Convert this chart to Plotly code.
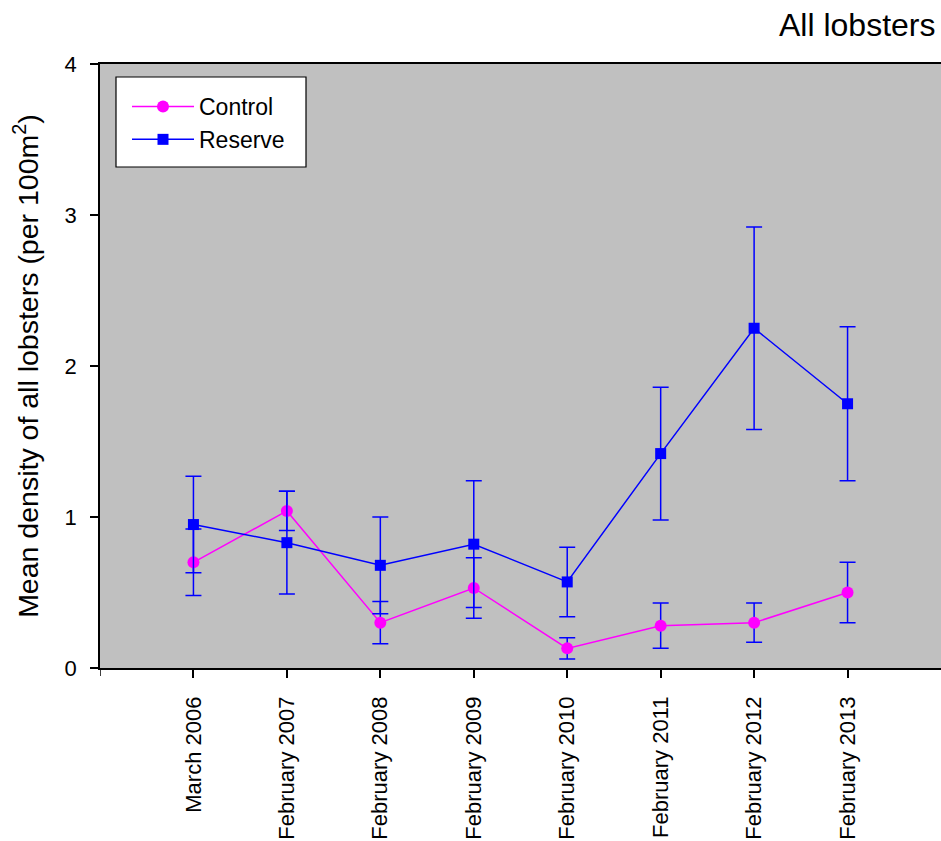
import plotly.graph_objects as go

categories = ["March 2006", "February 2007", "February 2008", "February 2009",
              "February 2010", "February 2011", "February 2012", "February 2013"]
control_mean = [0.70, 1.04, 0.30, 0.53, 0.13, 0.28, 0.30, 0.50]
control_err = [0.22, 0.13, 0.14, 0.20, 0.07, 0.15, 0.13, 0.20]
reserve_mean = [0.95, 0.83, 0.68, 0.82, 0.57, 1.42, 2.25, 1.75]
reserve_err = [0.32, 0.34, 0.32, 0.42, 0.23, 0.44, 0.67, 0.51]
y_ticks = [0, 1, 2, 3, 4]

FONT = "Liberation Sans, Arial, sans-serif"
xpos = list(range(len(categories)))

W, H = 941, 841
ML, MR, MT, MB = 100, 0, 64, 173
PW, PH = W - ML - MR, H - MT - MB


def px_x(px):
    return (px - ML) / PW


def px_y(py):
    return 1 - (py - MT) / PH


fig = go.Figure()
fig.add_trace(go.Scatter(
    x=xpos, y=control_mean, name="Control", mode="lines+markers",
    line=dict(color="#FF00FF", width=1.5),
    marker=dict(symbol="circle", size=12, color="#FF00FF"),
    error_y=dict(type="data", array=control_err, visible=True,
                 color="#0000FF", thickness=1.5, width=8),
))
fig.add_trace(go.Scatter(
    x=xpos, y=reserve_mean, name="Reserve", mode="lines+markers",
    line=dict(color="#0000FF", width=1.5),
    marker=dict(symbol="square", size=11, color="#0000FF"),
    error_y=dict(type="data", array=reserve_err, visible=True,
                 color="#0000FF", thickness=1.5, width=8),
))

fig.update_layout(
    width=W, height=H,
    margin=dict(l=ML, r=MR, t=MT, b=MB, autoexpand=False),
    paper_bgcolor="white", plot_bgcolor="#C0C0C0",
    font=dict(family=FONT, color="black", size=22),
    showlegend=True,
    legend=dict(
        x=px_x(127), y=px_y(85), xanchor="left", yanchor="top",
        bgcolor="rgba(0,0,0,0)", borderwidth=0,
        font=dict(size=23, family=FONT), itemwidth=62,
    ),
    xaxis=dict(
        range=[-1, 8], tickmode="array",
        tickvals=xpos, ticktext=categories,
        tickangle=-90, ticks="outside", ticklen=8, tickwidth=1.5,
        tickcolor="black", showline=True, linecolor="black", linewidth=1.5,
        mirror=True, showgrid=False, zeroline=False, automargin=False,
        tickfont=dict(size=22, family=FONT), ticklabelstandoff=10,
    ),
    yaxis=dict(
        range=[0, 4], tickmode="array", tickvals=y_ticks,
        ticks="outside", ticklen=8, tickwidth=1.5, tickcolor="black",
        showline=True, linecolor="black", linewidth=1.5,
        showgrid=False, zeroline=False, automargin=False,
        tickfont=dict(size=22, family=FONT), ticklabelstandoff=9,
        title=dict(text="Mean density of all lobsters (per 100m<sup>2</sup>)",
                   font=dict(size=28.5, family=FONT), standoff=18),
    ),
    shapes=[
        # legend box
        dict(type="rect", xref="paper", yref="paper",
             x0=px_x(116), x1=px_x(306), y0=px_y(167), y1=px_y(77),
             fillcolor="white", line=dict(color="black", width=1.2),
             layer="below"),
        # left-end tick of the x axis
        dict(type="line", xref="x", yref="paper", x0=-1, x1=-1,
             y0=0, y1=-8 / PH, line=dict(color="black", width=1.5)),
    ],
    annotations=[dict(
        text="All lobsters", xref="paper", yref="paper",
        x=1, y=px_y(25), xanchor="right", yanchor="middle",
        xshift=-3, showarrow=False, font=dict(size=32, family=FONT),
    )],
)

fig.write_html(
    "out.html",
    config={"displayModeBar": False},
    post_script="document.body.style.margin='0';"
                "document.body.style.overflow='hidden';",
)
